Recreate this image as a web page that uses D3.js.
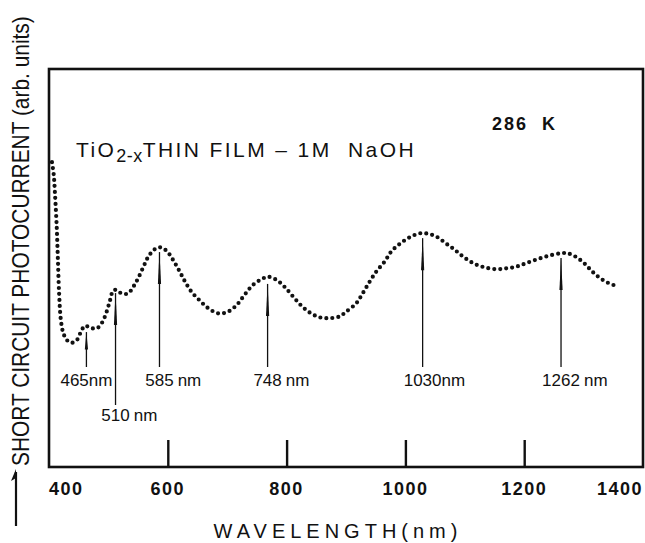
<!DOCTYPE html>
<html>
<head>
<meta charset="utf-8">
<script src="https://cdn.jsdelivr.net/npm/d3@7"></script>
<style>
  html, body { margin: 0; padding: 0; background: #fff; }
  #chart { width: 645px; height: 543px; }
  text { font-family: "Liberation Sans", Arial, sans-serif; fill: #111; }
</style>
</head>
<body>
<div id="chart"></div>
<script>
//Datos (unidades arbitrarias)
const wavelength = [405, 408, 410, 413, 415, 417, 420, 424, 430, 438, 447, 455, 461, 469, 480, 489, 497, 503, 508, 514,
    522, 533, 542, 550, 559, 567, 578, 587, 598, 609, 620, 629, 640, 654, 668, 685, 701, 716, 729, 743,
    758, 769, 783, 797, 811, 825, 839, 856, 872, 889, 900, 917, 928, 940, 951, 965, 976, 990, 1007, 1024,
    1035, 1052, 1068, 1082, 1096, 1113, 1130, 1152, 1169, 1186, 1203, 1222, 1242, 1262, 1273, 1287, 1301, 1312, 1323, 1337,
    1351, 1360];
const photocurrent = [76.6, 73.4, 68.8, 60.3, 52.0, 43.7, 36.9, 33.7, 31.9, 31.2, 31.9, 34.4, 35.5, 35.0, 34.8, 36.2, 39.0, 42.0, 44.3, 44.5,
    43.6, 43.6, 45.3, 47.4, 50.3, 52.8, 54.7, 55.2, 54.3, 52.0, 49.1, 46.6, 44.0, 41.8, 39.9, 38.6, 39.0, 40.7, 43.2, 45.7,
    47.2, 47.8, 47.0, 45.2, 42.8, 40.5, 38.8, 37.6, 37.4, 37.8, 39.0, 41.1, 43.6, 46.6, 49.1, 51.6, 54.1, 56.0, 57.7, 58.7,
    58.7, 57.9, 56.2, 54.7, 53.0, 51.3, 50.3, 49.7, 49.9, 50.3, 51.2, 52.2, 53.1, 53.7, 53.7, 52.8, 51.2, 49.5, 48.0, 46.6,
    45.7, 45.7];

const xTickValues = [400, 600, 800, 1000, 1200, 1400];
const xTickLabels = ['400', '600', '800', '1000', '1200', '1400'];

//Picos marcados con flecha
const peakLabels = ['465', '510', '585', '748', '1030', '1262'];
const peakArrowAt = [463, 512, 586, 768, 1029, 1262];
const peakArrowTip = [33.9, 43.7, 54.0, 46.0, 57.5, 52.5];

let margin = {top: 69, right: 2, bottom: 76, left: 49},
    width = 645 - margin.left - margin.right,
    height = 543 - margin.top - margin.bottom;

let svg = d3.select('#chart')
    .append('svg')
      .attr('width', 645)
      .attr('height', 543);

let g = svg.append('g')
    .attr('transform', 'translate(' + margin.left + ',' + margin.top + ')');

let x = d3.scaleLinear()
    .domain([400, 1400])
    .range([0, width]);

let y = d3.scaleLinear()
    .domain([0, 100])
    .range([height, 0]);

//Marco
g.append('rect')
    .attr('x', 0)
    .attr('y', 0)
    .attr('width', width)
    .attr('height', height)
    .attr('fill', 'none')
    .attr('stroke', '#111')
    .attr('stroke-width', 2.6);

//Ticks hacia dentro
let xAxis = d3.axisBottom(x)
    .tickValues(xTickValues.slice(1, -1))
    .tickSize(-27)
    .tickFormat('');

g.append('g')
    .attr('class', 'xaxis')
    .attr('transform', 'translate(0,' + height + ')')
    .call(xAxis)
    .call(function(s) {
        s.select('.domain').remove();
        s.selectAll('line').attr('stroke', '#111').attr('stroke-width', 2.4);
    });

g.selectAll('.tick-label')
    .data(xTickValues)
    .enter()
    .append('text')
      .attr('class', 'tick-label')
      .attr('x', function(d) { return x(d); })
      .attr('y', height + 28)
      .attr('text-anchor', function(d, i) { return i == 0 ? 'start' : (i == xTickValues.length - 1 ? 'end' : 'middle'); })
      .style('font-size', '18px')
      .style('font-weight', 'bold')
      .style('letter-spacing', '1.5px')
      .text(function(d, i) { return xTickLabels[i]; });

//Curva punteada
let points = wavelength.map(function(d, i) { return [d, photocurrent[i]]; });

let line = d3.line()
    .x(function(d) { return x(d[0]); })
    .y(function(d) { return y(d[1]); })
    .curve(d3.curveCatmullRom.alpha(0.5));

g.append('path')
    .datum(points)
    .attr('d', line)
    .attr('fill', 'none')
    .attr('stroke', '#111')
    .attr('stroke-width', 4.2)
    .attr('stroke-linecap', 'round')
    .attr('stroke-dasharray', '0 6');

//Flechas y etiquetas de los picos
peakLabels.forEach(function(lab, i) {
    let px = x(peakArrowAt[i]);
    let top = y(peakArrowTip[i]);
    let low = (lab == '510');
    let bottom = low ? 336 : 298;
    let head = Math.min(32, (bottom - top) * 0.5);

    g.append('line')
        .attr('x1', px).attr('x2', px)
        .attr('y1', top).attr('y2', bottom)
        .attr('stroke', '#111')
        .attr('stroke-width', 1.3);

    g.append('path')
        .attr('d', 'M' + px + ',' + top + 'L' + (px - 1.6) + ',' + (top + head) + 'L' + (px + 1.6) + ',' + (top + head) + 'Z')
        .attr('fill', '#111');

    let t = g.append('text')
        .attr('y', low ? 352 : 317)
        .style('font-size', '17px');
    t.append('tspan').text(lab);
    t.append('tspan').attr('dx', lab == '465' || lab == '1030' ? 0 : 4).text('nm');
    if (lab == '465') {
        //etiqueta estrecha: centrada entera bajo la flecha
        t.attr('x', px).attr('text-anchor', 'middle');
    } else {
        let numW = t.node().getSubStringLength(0, lab.length);
        t.attr('x', px - numW / 2);
    }
});

//Textos interiores
let title = g.append('text')
    .attr('x', 27)
    .attr('y', 88)
    .style('font-size', '21px')
    .style('letter-spacing', '2.4px');
title.append('tspan').text('TiO');
title.append('tspan').attr('dy', 5).style('font-size', '18px').style('letter-spacing', '0.5px').text('2-x');
title.append('tspan').attr('dy', -5).text('THIN FILM \u2013 1M\u00a0\u00a0NaOH');

g.append('text')
    .attr('x', 443)
    .attr('y', 61)
    .style('font-size', '18px')
    .style('font-weight', 'bold')
    .style('letter-spacing', '2px')
    .text('286\u00a0\u00a0K');

//Titulos de ejes
svg.append('text')
    .attr('x', 338)
    .attr('y', 538)
    .attr('text-anchor', 'middle')
    .style('font-size', '20px')
    .style('letter-spacing', '5px')
    .text('WAVELENGTH(nm)');

//Titulo vertical, comprimido a lo alto del marco
let yTitle = svg.append('text')
    .style('font-size', '23px')
    .text('SHORT CIRCUIT PHOTOCURRENT (arb. units)');
let yLen = yTitle.node().getComputedTextLength();
yTitle.attr('transform', 'translate(29,466) rotate(-90) scale(' + (450 / yLen) + ',1)');

//Flecha del eje vertical
svg.append('line')
    .attr('x1', 16).attr('x2', 16)
    .attr('y1', 472).attr('y2', 526)
    .attr('stroke', '#111')
    .attr('stroke-width', 2.2);

svg.append('path')
    .attr('d', 'M16,469 L11,481 L16,478 Z')
    .attr('fill', '#111');
</script>
</body>
</html>
